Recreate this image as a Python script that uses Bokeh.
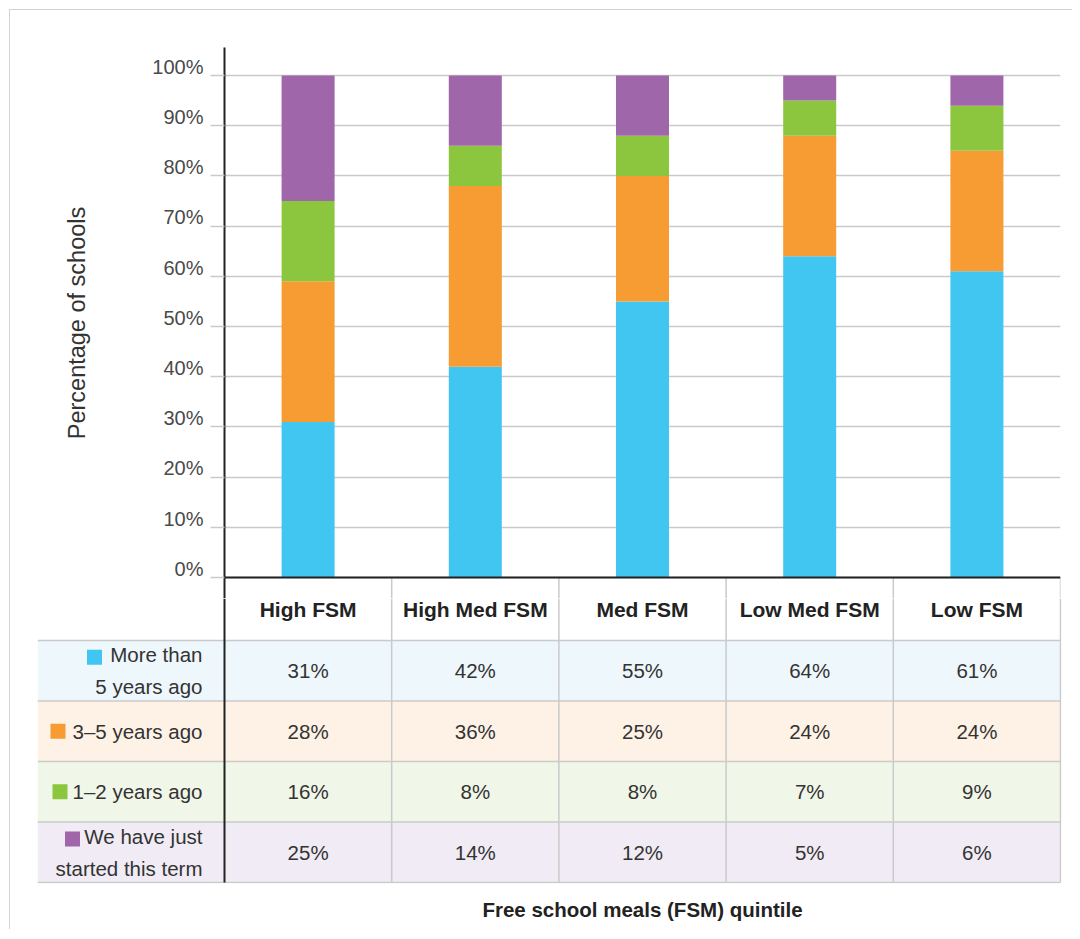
from bokeh.plotting import figure
from bokeh.models import ColumnDataSource, FixedTicker, Range1d, Span
from bokeh.layouts import column
from bokeh.embed import file_html
from bokeh.resources import INLINE
from bokeh.core.properties import value

# ---------------- data ----------------
categories = ["High FSM", "High Med FSM", "Med FSM", "Low Med FSM", "Low FSM"]
series_labels = ["More than\n5 years ago", "3\u20135 years ago", "1\u20132 years ago",
                 "We have just\nstarted this term"]
more_than_5_years = [31, 42, 55, 64, 61]
three_to_5_years = [28, 36, 25, 24, 24]
one_to_2_years = [16, 8, 8, 7, 9]
just_started = [25, 14, 12, 5, 6]
y_ticks = [0, 10, 20, 30, 40, 50, 60, 70, 80, 90, 100]
y_title = "Percentage of schools"
x_title = "Free school meals (FSM) quintile"

series = [more_than_5_years, three_to_5_years, one_to_2_years, just_started]

# ---------------- styles ----------------
COLORS = ["#41C6F2", "#F79C33", "#8CC63F", "#A066AA"]
ROW_BG = ["#EEF7FC", "#FDF2E5", "#F0F6E8", "#F0EBF4"]
GRID = "#cacaca"
FONT = value("Liberation Sans")
TEXT = "#333333"
CAT_PX = 167.2                      # pixel width of one category column
ROW_PX = 60.5                       # pixel height of one table row
LEFT_COL = -187 / CAT_PX            # row-header column width in category units
LABEL_RIGHT = -22 / CAT_PX          # right edge of row header text
SWATCH_PX = [-130, -166.5, -164.5, -152]   # swatch centre offsets (px from axis)
SWATCH_DY = [0.223, 0.0, 0.0, 0.22]
HEADER_TOP = 4 + 42 / ROW_PX        # part of header row drawn in the table figure
HEADER_MID = 4 + 31 / ROW_PX
CHART_BOTTOM = -21 / 5.02           # part of header row drawn in the chart figure

# ---------------- chart ----------------
p1 = figure(x_range=categories, y_range=Range1d(CHART_BOTTOM, 105.58),
            width=1062, height=588,
            min_border_left=214, min_border_right=12, min_border_top=37, min_border_bottom=0,
            x_axis_location=None, toolbar_location=None, output_backend="svg",
            outline_line_color=None, frame_align=False)

src = ColumnDataSource(dict(cat=categories, s0=series[0], s1=series[1], s2=series[2], s3=series[3]))
p1.vbar_stack(["s0", "s1", "s2", "s3"], x="cat", width=0.317, source=src,
              fill_color=COLORS, line_color=None)

# header column separators (upper part)
p1.segment(x0=[1, 2, 3, 4, 5], x1=[1, 2, 3, 4, 5], y0=0, y1=CHART_BOTTOM,
           line_color=GRID, line_width=1.5)
p1.add_layout(Span(location=0, dimension="width", line_color="#222222", line_width=2))

ax = p1.yaxis[0]
ax.ticker = FixedTicker(ticks=y_ticks)
# trailing empty line lifts each label just above its grid line, as in the original
ax.major_label_overrides = {t: f"{t}%\n" for t in y_ticks}
ax.major_label_text_line_height = 0.8
ax.major_label_text_font = "Liberation Sans"
ax.major_label_text_font_size = "20px"
ax.major_label_text_color = "#4a4a4a"
ax.major_label_standoff = 7
ax.major_tick_out = 14
ax.major_tick_in = 0
ax.major_tick_line_color = GRID
ax.major_tick_line_width = 1.5
ax.minor_tick_line_color = None
ax.axis_line_color = "#222222"
ax.axis_line_width = 2
ax.axis_label = y_title
ax.axis_label_text_font = "Liberation Sans"
ax.axis_label_text_font_size = "23.5px"
ax.axis_label_text_font_style = "normal"
ax.axis_label_text_color = TEXT
ax.axis_label_standoff = 59

p1.ygrid.grid_line_color = GRID
p1.ygrid.grid_line_width = 1.5
p1.xgrid.grid_line_color = None

# ---------------- table ----------------
p2 = figure(x_range=Range1d(LEFT_COL, 5.006), y_range=Range1d(-1 / ROW_PX, HEADER_TOP),
            width=1062, height=331,
            min_border_left=27, min_border_right=11, min_border_top=0, min_border_bottom=46,
            y_axis_location=None, toolbar_location=None, output_backend="svg",
            outline_line_color=None, frame_align=False)
p2.grid.visible = False

n_rows = len(series)
rows = list(range(n_rows))
p2.quad(left=LEFT_COL, right=5, bottom=[n_rows - 1 - r for r in rows],
        top=[n_rows - r for r in rows], fill_color=ROW_BG, line_color=None)

# grid lines
p2.segment(x0=LEFT_COL, x1=5, y0=[0, 1, 2, 3, 4], y1=[0, 1, 2, 3, 4],
           line_color=GRID, line_width=1.5)
p2.segment(x0=[1, 2, 3, 4, 5], x1=[1, 2, 3, 4, 5], y0=0, y1=HEADER_TOP,
           line_color=GRID, line_width=1.5)
p2.segment(x0=[0], x1=[0], y0=0, y1=HEADER_TOP, line_color="#222222", line_width=2)

# header row
p2.text(x=[i + 0.5 for i in range(len(categories))], y=HEADER_MID,
        text=categories, text_font=FONT, text_font_size="21px", text_font_style="bold",
        text_color="#222222", text_align="center", text_baseline="middle")

# cell values
cx, cy, ct = [], [], []
for r, vals in enumerate(series):
    for i, v in enumerate(vals):
        cx.append(i + 0.5)
        cy.append(n_rows - r - 0.5)
        ct.append(f"{v}%")
p2.text(x=cx, y=cy, text=ct, text_font=FONT, text_font_size="20.5px", text_color=TEXT,
        text_align="center", text_baseline="middle")

# row headers
p2.text(x=LABEL_RIGHT, y=[n_rows - r - 0.5 for r in rows], text=series_labels,
        text_font=FONT, text_font_size="20.5px", text_color=TEXT,
        text_align="right", text_baseline="middle", text_line_height=1.39)
p2.scatter(x=[s / CAT_PX for s in SWATCH_PX],
           y=[n_rows - r - 0.5 + SWATCH_DY[r] for r in rows],
           marker="square", size=15, fill_color=COLORS, line_color=None)

# x title (centred under the category columns)
ax2 = p2.xaxis[0]
ax2.ticker = FixedTicker(ticks=[2.5])
ax2.major_label_overrides = {2.5: x_title}
ax2.axis_line_color = None
ax2.major_tick_line_color = None
ax2.minor_tick_line_color = None
ax2.major_label_standoff = 8
ax2.major_label_text_font = "Liberation Sans"
ax2.major_label_text_font_size = "20.5px"
ax2.major_label_text_font_style = "bold"
ax2.major_label_text_color = "#222222"

layout = column(p1, p2, spacing=0, margin=(9, 0, 0, 9),
                styles={"border-left": "1px solid #d3d3d3", "border-top": "1px solid #d3d3d3"})

open("out.html", "w").write(file_html(layout, INLINE))
